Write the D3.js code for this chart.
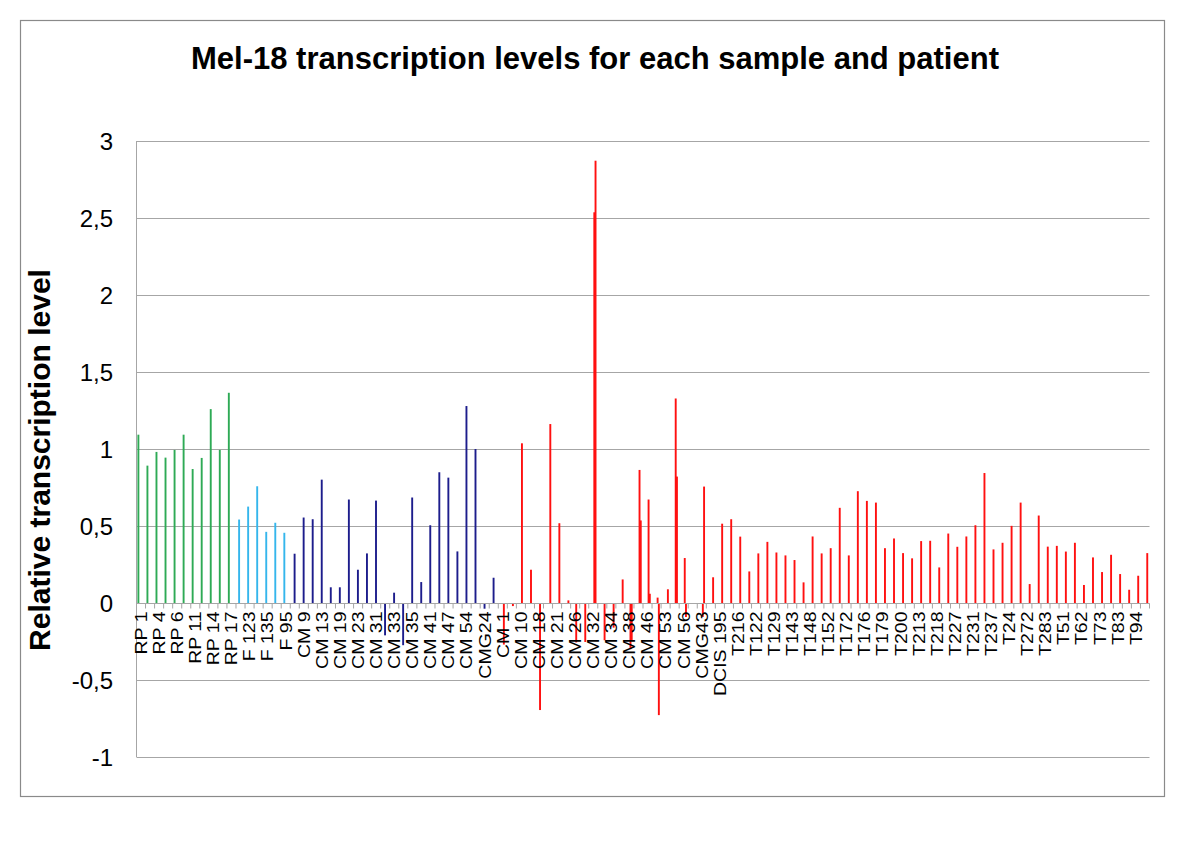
<!DOCTYPE html>
<html><head><meta charset="utf-8">
<script src="https://cdn.jsdelivr.net/npm/d3@7"></script>
<style>
body{margin:0;background:#fff}
text{font-family:"Liberation Sans",Arial,sans-serif;fill:#000}
</style>
</head><body>
<svg id="chart" width="1200" height="849"></svg>
<script>
// ---------- data ----------
const categories = [
 "RP 1","RP 2","RP 4","RP 5","RP 6","RP 8","RP 11","RP 12","RP 14","RP 16","RP 17",
 "F 121","F 123","F 127","F 135","F 141","F 95",
 "CM 6","CM 9","CM 12","CM 13","CM 15","CM 19","CM 20","CM 23","CM 29","CM 31","CM 32a","CM 33","CM 34a","CM 35","CM 40","CM 41","CM 45","CM 47","CM 50","CM 54","CMG2","CMG24","CMG8",
 "CM 1","CM 2","CM 10","CM 11","CM 18","CM 19b","CM 21","CM 22","CM 26","CM 30","CM 32","CM 33b","CM 34","CM 36","CM 38","CM 44","CM 46","CM 49","CM 53","CM 54b","CM 56","CMG4","CMG43",
 "DCIS 18","DCIS 195","T210","T216","T12","T122","T127","T129","T136","T143","T144","T148","T150","T152","T165","T172","T173","T176","T177","T179","T190","T200","T208","T213","T214","T218","T219","T227","T230","T231","T234","T237","T238","T24","T25","T272","T276","T283","T32","T51","T55","T62","T68","T73","T80","T83","T84","T94","T97"
];
const displayLabels = categories.map(c => c.replace(/[ab]$/, ""));

const yTicks = [-1, -0.5, 0, 0.5, 1, 1.5, 2, 2.5, 3];

const seriesNames  = ["RP", "F", "CM", "Patients A", "Patients B"];
const seriesColors = ["#2eaa55", "#35b6ec", "#1d1d8c", "#ff1010", "#ff1010"];
const seriesStart  = [0, 11, 17, 40, 40];

const rpValues = [1.093, 0.892, 0.981, 0.944, 0.994, 1.093, 0.870, 0.942, 1.259, 0.994, 1.365];
const fValues  = [0.542, 0.626, 0.758, 0.462, 0.521, 0.456];
const cmValues = [0.320, 0.555, 0.544, 0.801, 0.102, 0.102, 0.672, 0.216, 0.322, 0.665, -0.210, 0.067,
                  -0.274, 0.685, 0.136, 0.505, 0.849, 0.814, 0.335, 1.279, 1.000, -0.037, 0.164];
const patientAValues = [-0.27, -0.02, 1.037, 0.216, -0.695, null, null, null, -0.256, -0.253, 2.537,
                  null, null, null, -0.30, 0.864, 0.672, 0.035, null, 1.328, 0.292, null, -0.09];
const patientBValues = [null, null, null, null, null, 1.162, 0.518, 0.017, null, null, 2.872,
                  -0.242, -0.16, 0.153, -0.24, 0.536, 0.06, -0.728, 0.089, 0.821, -0.091, null, 0.756,
                  0.167, 0.515, 0.544, 0.431, 0.205, 0.322, 0.397, 0.328, 0.309, 0.279, 0.134, 0.432,
                  0.322, 0.356, 0.618, 0.309, 0.726, 0.663, 0.652, 0.356, 0.419, 0.324, 0.290, 0.402,
                  0.404, 0.231, 0.451, 0.365, 0.432, 0.505, 0.844, 0.348, 0.391, 0.501, 0.652, 0.123,
                  0.568, 0.366, 0.371, 0.334, 0.391, 0.117, 0.296, 0.201, 0.313, 0.188, 0.086, 0.177, 0.324];
const seriesValues = [rpValues, fValues, cmValues, patientAValues, patientBValues];

// ---------- chart ----------
const svg = d3.select("#chart");
const W = 1200, H = 849;
const plot = {left: 136.5, right: 1149.5, top: 141, bottom: 757};

svg.append("rect").attr("width", W).attr("height", H).attr("fill", "#fff");
svg.append("rect").attr("x", 20.5).attr("y", 20.5).attr("width", 1144).attr("height", 776)
   .attr("fill", "none").attr("stroke", "#8a8a8a").attr("stroke-width", 1.2);

const x = d3.scaleBand().domain(d3.range(categories.length)).range([plot.left, plot.right]).padding(0);
const slot = d3.scaleBand().domain(d3.range(seriesNames.length)).range([x.bandwidth()*0.14, x.bandwidth()*0.82]);
const y = d3.scaleLinear().domain([-1, 3]).range([plot.bottom, plot.top]);

// gridlines
svg.append("g").selectAll("line").data(yTicks).join("line")
  .attr("x1", plot.left).attr("x2", plot.right)
  .attr("y1", d => Math.round(y(d)) + 0.5).attr("y2", d => Math.round(y(d)) + 0.5)
  .attr("stroke", "#a6a6a6").attr("stroke-width", 1);

// y axis line
svg.append("line").attr("x1", plot.left).attr("x2", plot.left)
  .attr("y1", plot.top).attr("y2", plot.bottom).attr("stroke", "#a6a6a6");

// y tick labels
svg.append("g").selectAll("text").data(yTicks).join("text")
  .attr("x", 113).attr("y", d => y(d)).attr("dy", "0.36em")
  .attr("text-anchor", "end").attr("font-size", 24)
  .text(d => String(d).replace(".", ","));

// bars
const barW = 1.9;
const bars = [];
seriesValues.forEach((vals, s) => {
  vals.forEach((v, j) => {
    if (v === null) return;
    bars.push({s, i: seriesStart[s] + j, v});
  });
});
svg.append("g").selectAll("rect").data(bars).join("rect")
  .attr("x", d => x(d.i) + slot(d.s) + slot.bandwidth()/2 - barW/2)
  .attr("width", barW)
  .attr("y", d => Math.min(y(d.v), y(0)))
  .attr("height", d => Math.abs(y(d.v) - y(0)))
  .attr("fill", d => seriesColors[d.s]);

// x axis at zero
const y0 = Math.round(y(0)) + 0.5;
svg.append("line").attr("x1", plot.left).attr("x2", plot.right)
  .attr("y1", y0).attr("y2", y0).attr("stroke", "#a6a6a6");
const tickPos = d3.range(categories.length).map(i => x(i)).concat([plot.right]);
svg.append("g").selectAll("line").data(tickPos).join("line")
  .attr("x1", d => d).attr("x2", d => d)
  .attr("y1", y0).attr("y2", y0 + 5).attr("stroke", "#a6a6a6");

// category labels (every other)
const labelIdx = d3.range(0, categories.length, 2);
svg.append("g").selectAll("text").data(labelIdx).join("text")
  .attr("transform", i => `translate(${x(i) + x.bandwidth()/2},${y0 + 8}) rotate(-90) scale(1,0.85)`)
  .attr("text-anchor", "end").attr("dy", "0.35em")
  .attr("font-size", 19.5)
  .text(i => displayLabels[i]);

// titles
svg.append("text").attr("x", 595).attr("y", 69).attr("text-anchor", "middle")
  .attr("font-size", 31).attr("font-weight", "bold")
  .text("Mel-18 transcription levels for each sample and patient");
svg.append("text").attr("transform", "translate(50,460) rotate(-90)")
  .attr("text-anchor", "middle").attr("font-size", 30).attr("font-weight", "bold")
  .text("Relative transcription level");
</script>
</body></html>
